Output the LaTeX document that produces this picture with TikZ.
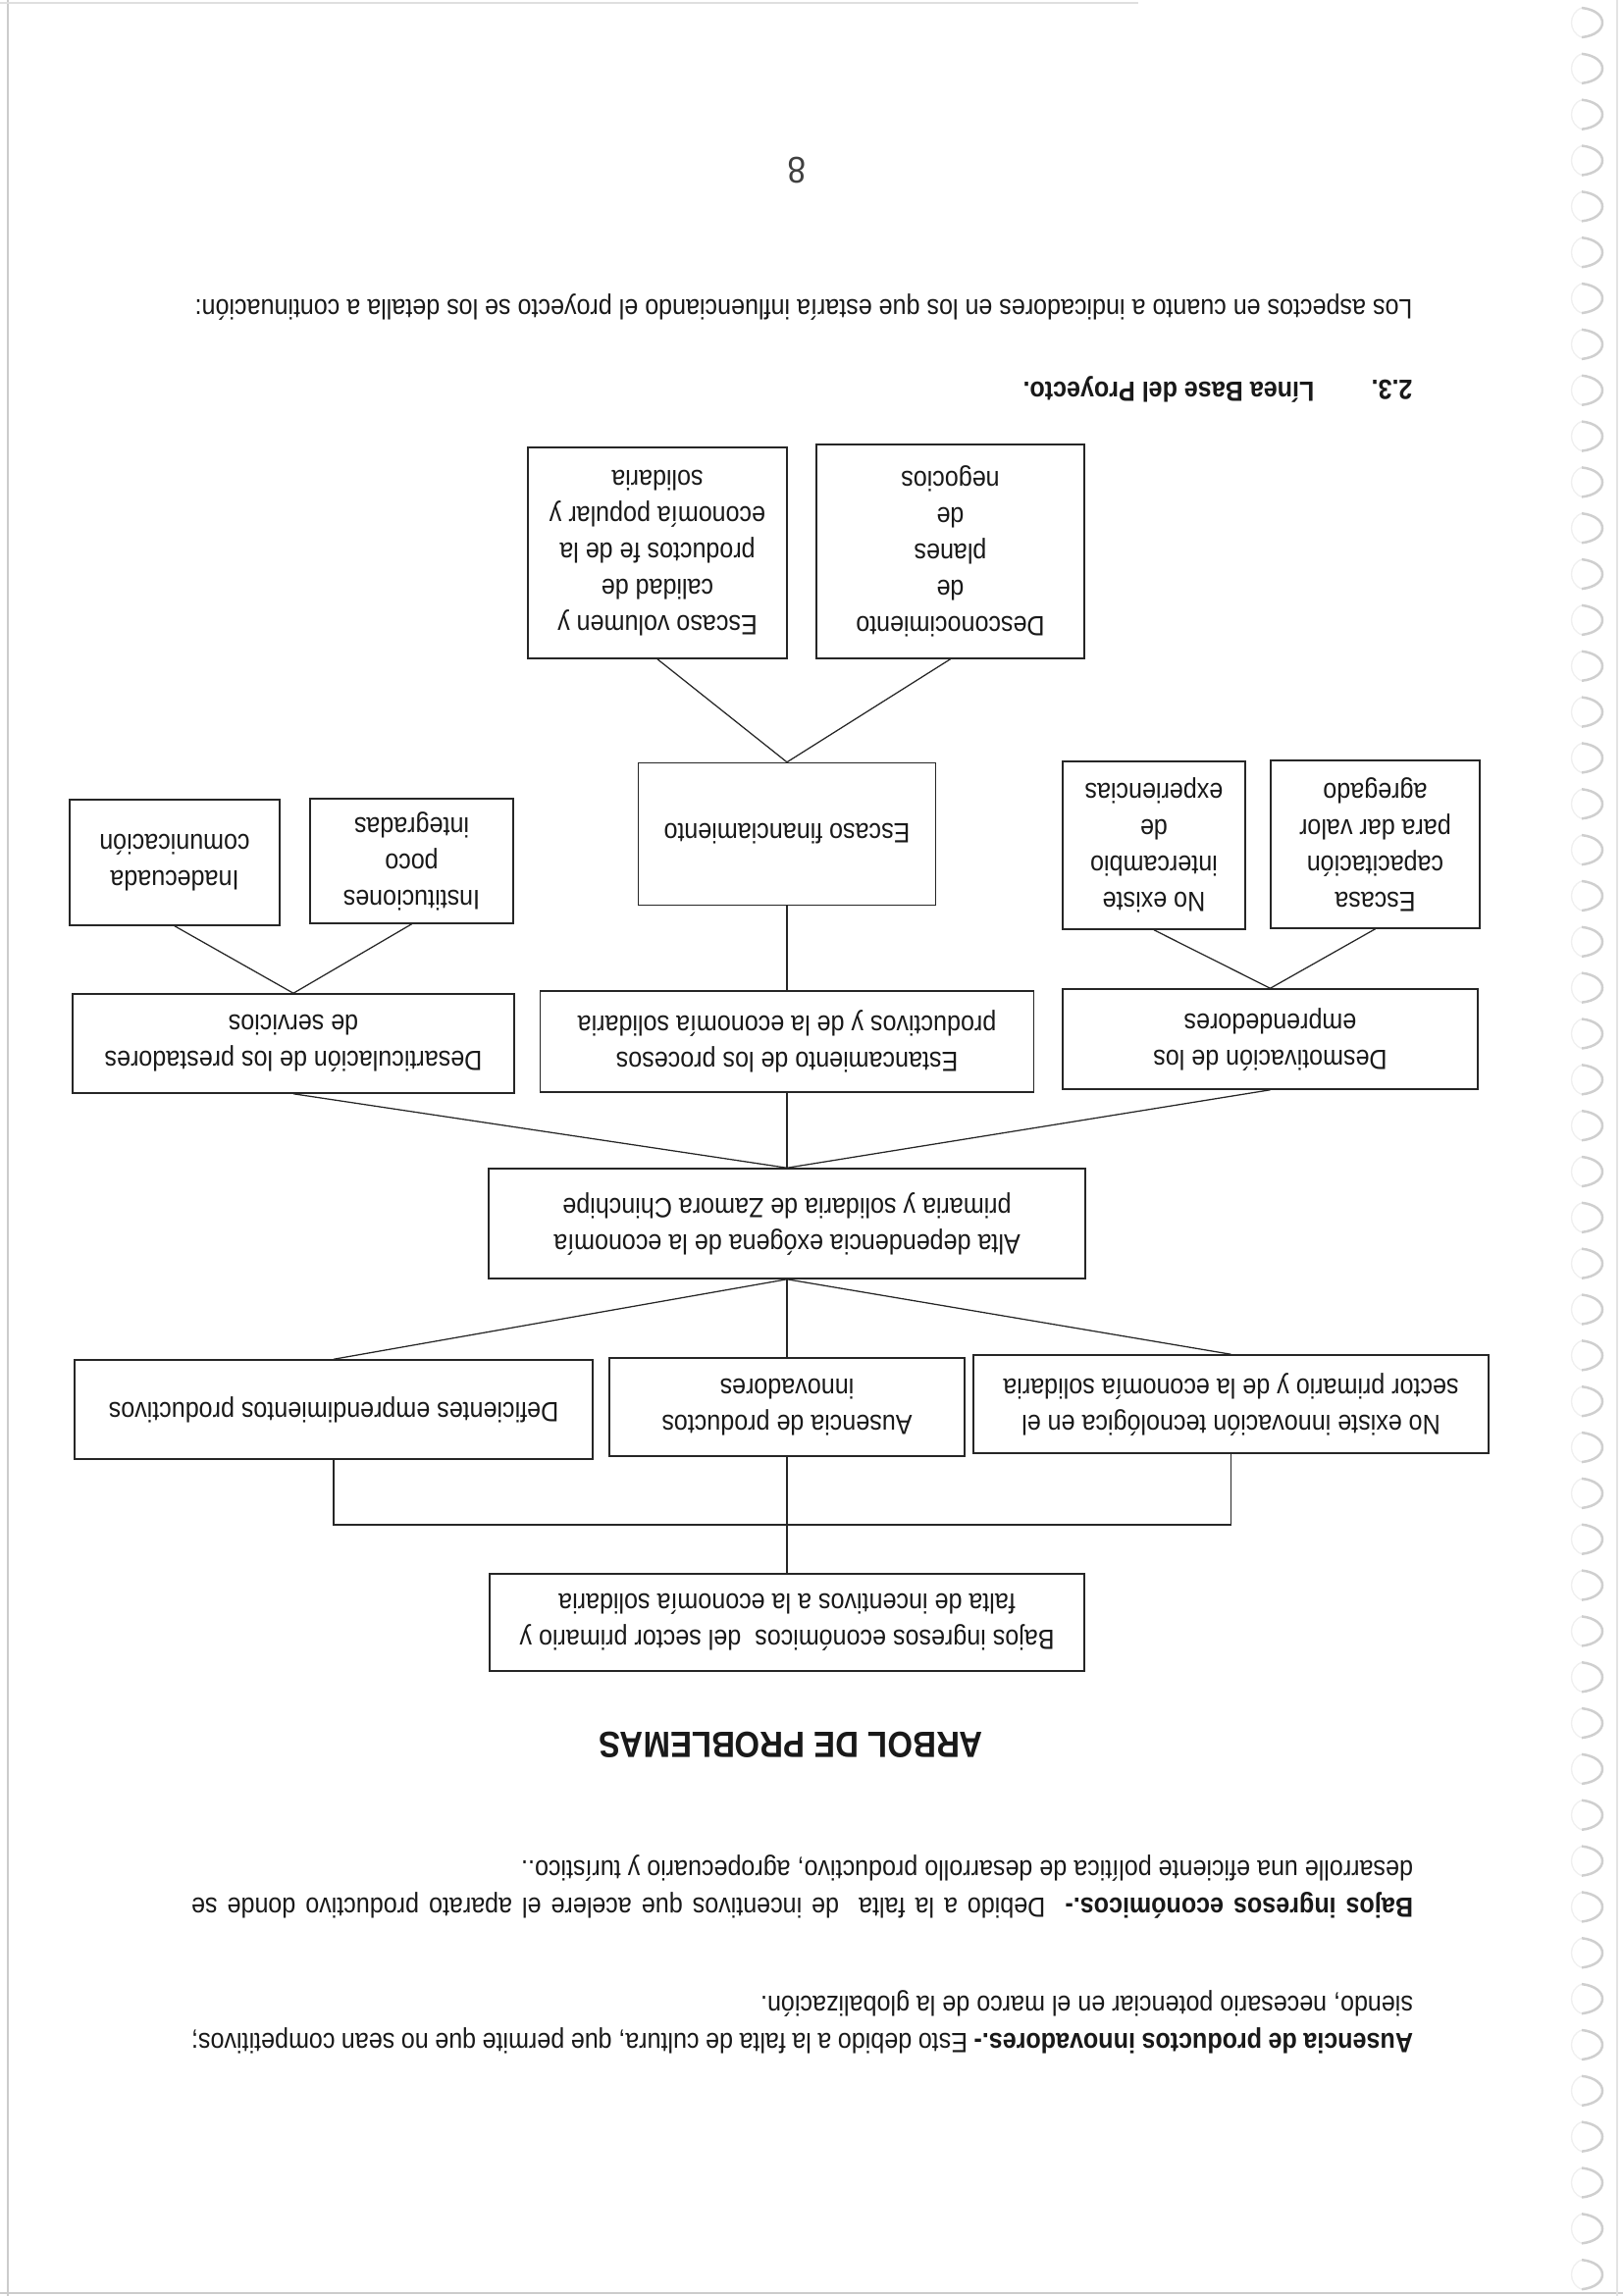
\documentclass[tikz,border=0pt]{standalone}
\usepackage{fontspec}
\setmainfont{Liberation Sans}[FakeStretch=0.885]
\newlength\pxu
\setlength\pxu{0.3599pt}
\newcommand\boxfont{\fontsize{10.2pt}{13.3pt}\selectfont}
\newcommand\bodyfont{\fontsize{10.2pt}{13.7pt}\selectfont}
\begin{document}
\begin{tikzpicture}[x=0.3599pt,y=-0.3599pt,
  box/.style={draw=black!85, line width=0.55pt, align=center, inner sep=2pt, font=\boxfont, text=black!90},
  conn/.style={draw=black!85, line width=0.45pt},
  txt/.style={inner sep=0pt, font=\bodyfont, text=black!90},
  para/.style={inner sep=0pt, font=\bodyfont, text=black!90, text width=1245\pxu, align=justify},
  deco/.style={draw=gray!40, line width=0.5pt},
  ringa/.style={draw=gray!12, line width=0.5pt},
  ringb/.style={draw=gray!38, line width=0.9pt}]
\useasboundingbox (0,0) rectangle (1654,2340);
% scanned page edges and binding rings (image frame)
\draw[deco] (8,0) -- (8,2340);
\draw[deco, draw=gray!25] (0,3) -- (1160,3);
\draw[deco] (0,2337) -- (1654,2337);
\draw[deco, draw=gray!22] (1648,0) -- (1648,2340);
\foreach \k in {0,...,49} {
  \pgfmathsetmacro\yy{23+46.84*\k}
  \draw[ringa] (1612,\yy-15) .. controls (1598,\yy-10) and (1598,\yy+10) .. (1612,\yy+15);
  \draw[ringb] (1612,\yy-15) .. controls (1640,\yy-12) and (1640,\yy+12) .. (1612,\yy+15);
}
% the page itself, printed upside down
\begin{scope}[rotate around={180:(827,1170)}, transform shape]
\node[box, minimum width=606\pxu, minimum height=99\pxu] (bajos) at (852,686.5)
  {Bajos ingresos económicos\ \ del sector primario y\\falta de incentivos a la economía solidaria};
\node[box, minimum width=528\pxu, minimum height=101\pxu] (defic) at (1314,903.5)
  {Deficientes emprendimientos productivos};
\node[box, minimum width=362\pxu, minimum height=100\pxu] (ausen) at (852,906)
  {Ausencia de productos\\innovadores};
\node[box, minimum width=525\pxu, minimum height=100\pxu] (innov) at (399.5,909)
  {No existe innovación tecnológica en el\\sector primario y de la economía solidaria};
\node[box, minimum width=608\pxu, minimum height=112\pxu] (alta) at (852,1093)
  {Alta dependencia exógena de la economía\\primaria y solidaria de Zamora Chinchipe};
\node[box, minimum width=450\pxu, minimum height=101\pxu] (desart) at (1355,1276.5)
  {Desarticulación de los prestadores\\de servicios};
\node[box, minimum width=503\pxu, minimum height=103\pxu] (estan) at (852,1278.5)
  {Estancamiento de los procesos\\productivos y de la economía solidaria};
\node[box, minimum width=423\pxu, minimum height=102\pxu] (desmot) at (359.5,1281)
  {Desmotivación de los\\emprendedores};
\node[box, minimum width=214\pxu, minimum height=128\pxu] (inad) at (1476,1461)
  {Inadecuada\\comunicación};
\node[box, minimum width=207\pxu, minimum height=127\pxu] (inst) at (1234.5,1462.5)
  {Instituciones\\poco\\integradas};
\node[box, minimum width=303\pxu, minimum height=145\pxu] (fin) at (852,1490)
  {Escaso financiamiento};
\node[box, minimum width=186\pxu, minimum height=171\pxu] (inter) at (478,1478.5)
  {No existe\\intercambio\\de\\experiencias};
\node[box, minimum width=213\pxu, minimum height=171\pxu] (cap) at (252.5,1479.5)
  {Escasa\\capacitación\\para dar valor\\agregado};
\node[box, minimum width=264\pxu, minimum height=215\pxu] (vol) at (984,1776.5)
  {Escaso volumen y\\calidad de\\productos fe de la\\economía popular y\\solidaria};
\node[box, minimum width=273\pxu, minimum height=218\pxu] (desc) at (685.5,1778)
  {Desconocimiento\\de\\planes\\de\\negocios};
% connectors
\coordinate (brk) at (852,786);
\draw[conn] (bajos.south) -- (ausen.north);
\draw[conn] (defic.north) -- (defic.north |- brk) -- (innov.north |- brk) -- (innov.north);
\draw[conn] (alta.north) -- (defic.south);
\draw[conn] (alta.north) -- (ausen.south);
\draw[conn] (alta.north) -- (innov.south);
\draw[conn] (alta.south) -- (desart.north);
\draw[conn] (alta.south) -- (estan.north);
\draw[conn] (alta.south) -- (desmot.north);
\draw[conn] (desart.south) -- (inad.north);
\draw[conn] (desart.south) -- (inst.north);
\draw[conn] (estan.south) -- (fin.north);
\draw[conn] (desmot.south) -- (inter.north);
\draw[conn] (desmot.south) -- (cap.north);
\draw[conn] (fin.south) -- (vol.north);
\draw[conn] (fin.south) -- (desc.north);
% texts
\node[txt, font=\fontsize{13.4pt}{15pt}\selectfont\bfseries] (title) at (848,562) {ARBOL DE PROBLEMAS};
\node[para] (p1) at (836.5,417.5)
  {\textbf{Bajos ingresos económicos.-}\ \ Debido a la falta\ \ de incentivos que acelere el aparato productivo donde se\linebreak desarrolle una eficiente política de desarrollo productivo, agropecuario y turístico..};
\node[para] (p2) at (836.5,279)
  {\textbf{Ausencia de productos innovadores.-} Esto debido a la falta de cultura, que permite que no sean competitivos;\linebreak siendo, necesario potenciar en el marco de la globalización.};
\node[txt, font=\bodyfont\bfseries, anchor=west] (secnum) at (214,1943) {2.3.};
\node[txt, font=\bodyfont\bfseries, anchor=west] (sectitle) at (314,1943) {Línea Base del Proyecto.};
\node[txt, anchor=west] (intro) at (214,2027)
  {Los aspectos en cuanto a indicadores en los que estaría influenciando el proyecto se los detalla a continuación:};
\node[txt, font=\fontsize{13.6pt}{16pt}\selectfont, text=black!75] (pnum) at (842,2167) {8};
\end{scope}
\end{tikzpicture}
\end{document}
